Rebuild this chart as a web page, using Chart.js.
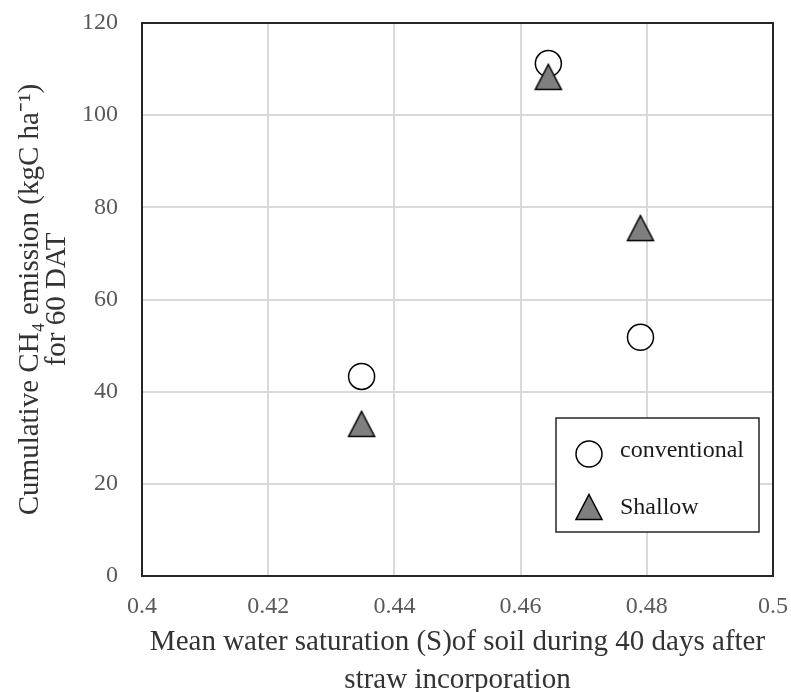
<!DOCTYPE html>
<html>
<head>
<meta charset="utf-8">
<script src="https://cdn.jsdelivr.net/npm/chart.js@4.4.1/dist/chart.umd.min.js"></script>
<style>
      html, body { margin: 0; padding: 0; background: #ffffff; }
      #wrap { width: 791px; height: 692px; }
</style>
</head>
<body>
<div id="wrap"><canvas id="ch4_chart" width="791" height="692"></canvas></div>
<script>
// mean water saturation (S) for the three plots
const saturation = [0.4348, 0.4644, 0.4790];
// cumulative CH4 emission, kgC/ha for 60 DAT
const conventional = [43.3, 111.2, 51.8];
const shallow = [33.0, 108.3, 75.5];

const seriesNames = ['conventional', 'Shallow'];
const xTicks = [0.4, 0.42, 0.44, 0.46, 0.48, 0.5];
const yTicks = [0, 20, 40, 60, 80, 100, 120];

const serif = "'Liberation Serif', 'Times New Roman', serif";

function toPoints(xs, ys)
{
      const pts = [];
      for (let i = 0; i < xs.length; i++)
      {
            pts.push({ x: xs[i], y: ys[i] });
      }
      return pts;
}

// grey triangle marker, box-centred like a spreadsheet marker
function makeTriangle()
{
      const c = document.createElement('canvas');
      c.width = 30;
      c.height = 30;
      const g = c.getContext('2d');
      g.beginPath();
      g.moveTo(15, 2.5);
      g.lineTo(28, 27.5);
      g.lineTo(2, 27.5);
      g.closePath();
      g.fillStyle = '#7f7f7f';
      g.fill();
      g.lineWidth = 1.5;
      g.strokeStyle = '#000000';
      g.stroke();
      return c;
}

const triangleMarker = makeTriangle();

// frame around the plot area
const frame = {
      id: 'frame',
      afterDraw(chart)
      {
            const { ctx, chartArea: a } = chart;
            ctx.save();
            ctx.strokeStyle = '#262626';
            ctx.lineWidth = 2;
            ctx.strokeRect(a.left, a.top, a.right - a.left, a.bottom - a.top);
            ctx.restore();
      }
};

// boxed legend sitting inside the plot, lower right
const boxLegend = {
      id: 'boxLegend',
      afterDraw(chart)
      {
            const { ctx, chartArea: a } = chart;
            const w = 203, h = 114;
            const left = a.right - 14 - w;
            const top = a.bottom - 44 - h;

            ctx.save();
            ctx.fillStyle = '#ffffff';
            ctx.fillRect(left, top, w, h);
            ctx.strokeStyle = '#262626';
            ctx.lineWidth = 1.5;
            ctx.strokeRect(left, top, w, h);

            const markerRows = [top + 36, top + 89];
            const textRows = [top + 33, top + 90];
            chart.data.datasets.forEach(function (ds, i)
            {
                  ctx.fillStyle = ds.backgroundColor;
                  ctx.strokeStyle = ds.borderColor;
                  ctx.lineWidth = ds.borderWidth;
                  Chart.helpers.drawPoint(ctx, {
                        pointStyle: ds.pointStyle,
                        radius: ds.pointRadius,
                        borderWidth: ds.borderWidth,
                        rotation: 0
                  }, left + 33, markerRows[i]);

                  ctx.fillStyle = '#1a1a1a';
                  ctx.font = '24px ' + serif;
                  ctx.textAlign = 'left';
                  ctx.textBaseline = 'middle';
                  ctx.fillText(ds.label, left + 64, textRows[i]);
            });
            ctx.restore();
      }
};

const config = {
      type: 'scatter',
      data: {
            datasets: [
                  {
                        label: seriesNames[0],
                        data: toPoints(saturation, conventional),
                        pointStyle: 'circle',
                        pointRadius: 13,
                        pointHoverRadius: 13,
                        backgroundColor: '#ffffff',
                        borderColor: '#000000',
                        borderWidth: 1.5,
                        order: 2
                  },
                  {
                        label: seriesNames[1],
                        data: toPoints(saturation, shallow),
                        pointStyle: triangleMarker,
                        pointRadius: 15,
                        pointHoverRadius: 15,
                        backgroundColor: '#7f7f7f',
                        borderColor: '#000000',
                        borderWidth: 1.5,
                        order: 1
                  }
            ]
      },
      options: {
            responsive: false,
            animation: false,
            layout: {
                  padding: { left: 0, top: 23, right: 18, bottom: 0 }
            },
            scales: {
                  x: {
                        type: 'linear',
                        min: xTicks[0],
                        max: xTicks[xTicks.length - 1],
                        afterBuildTicks: function (scale)
                        {
                              scale.ticks = xTicks.map(v => ({ value: v }));
                        },
                        afterFit: function (scale)
                        {
                              // fixed band below the plot, end labels may overhang
                              scale.height = 116;
                              scale.paddingLeft = 0;
                              scale.paddingRight = 0;
                        },
                        grid: {
                              color: '#d9d9d9',
                              lineWidth: 2,
                              drawTicks: false
                        },
                        border: { display: false },
                        ticks: {
                              padding: 16,
                              color: '#595959',
                              font: { family: serif, size: 24 },
                              callback: v => String(Number(v.toFixed(2)))
                        },
                        title: {
                              display: true,
                              text: ['Mean water saturation (S)of soil during 40 days after', 'straw incorporation'],
                              color: '#333333',
                              font: { family: serif, size: 29, lineHeight: 1.3 },
                              padding: { top: 0, bottom: -7 }
                        }
                  },
                  y: {
                        min: yTicks[0],
                        max: yTicks[yTicks.length - 1],
                        afterBuildTicks: function (scale)
                        {
                              scale.ticks = yTicks.map(v => ({ value: v }));
                        },
                        afterFit: function (scale)
                        {
                              scale.width = 142;
                              scale.paddingTop = 0;
                              scale.paddingBottom = 0;
                        },
                        grid: {
                              color: '#d9d9d9',
                              lineWidth: 2,
                              drawTicks: false
                        },
                        border: { display: false },
                        ticks: {
                              padding: 24,
                              color: '#595959',
                              font: { family: serif, size: 24 }
                        },
                        title: {
                              display: true,
                              text: ['Cumulative CH\u2084 emission (kgC ha\u207B\u00B9)', 'for 60 DAT'],
                              color: '#333333',
                              font: { family: serif, size: 29, lineHeight: 0.92 },
                              padding: { top: 17, bottom: 0 }
                        }
                  }
            },
            plugins: {
                  legend: { display: false },
                  tooltip: { enabled: false }
            }
      },
      plugins: [frame, boxLegend]
};

const ch4Chart = new Chart(document.getElementById('ch4_chart'), config);
</script>
</body>
</html>
